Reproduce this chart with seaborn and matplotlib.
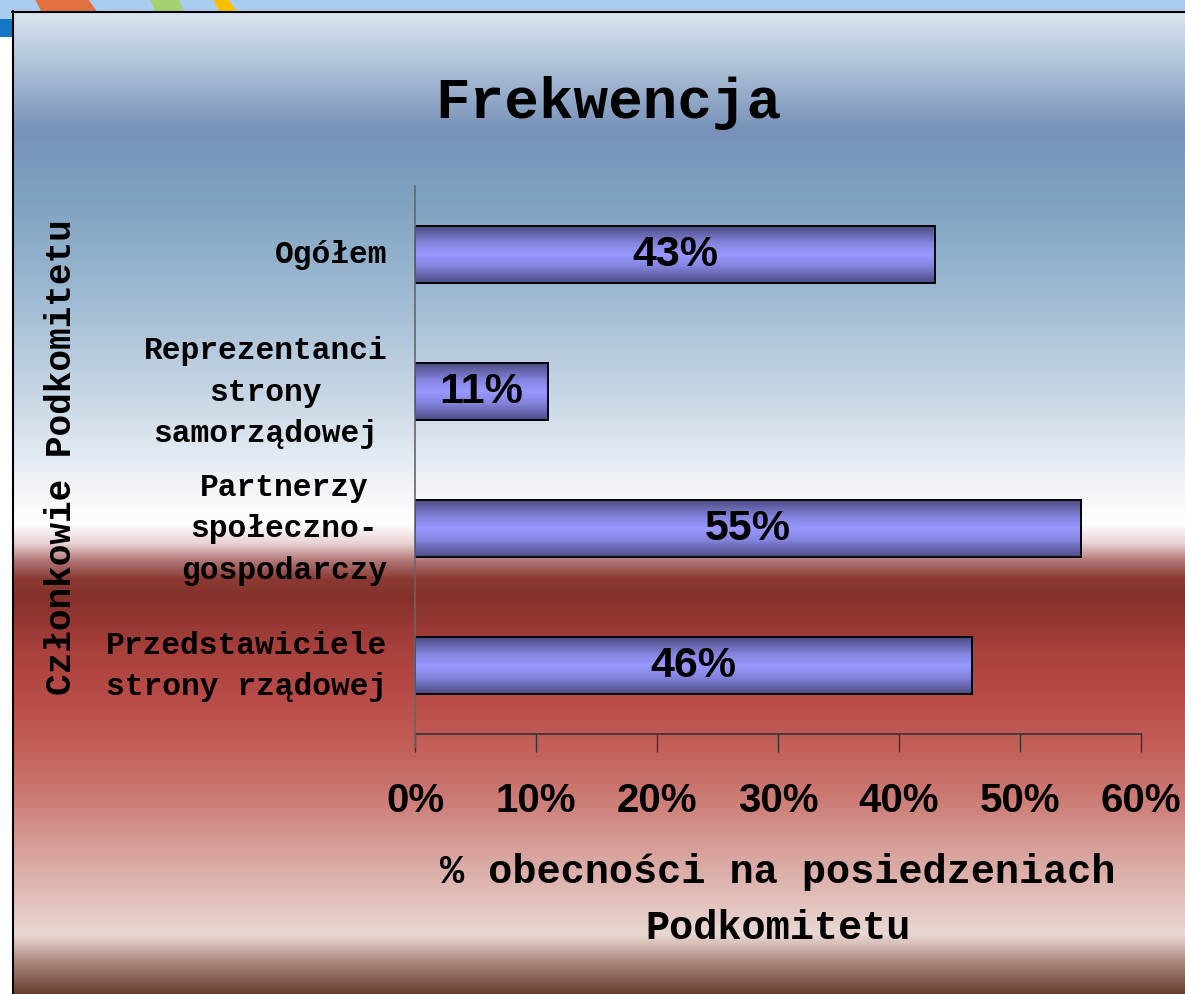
import numpy as np
import pandas as pd
import matplotlib
matplotlib.use("Agg")
import matplotlib.pyplot as plt
from matplotlib import font_manager
from matplotlib.colors import LinearSegmentedColormap, to_rgb
import seaborn as sns

# ---------------- data ----------------
categories = ["Ogółem",
              "Reprezentanci\nstrony\nsamorządowej",
              "Partnerzy\nspołeczno-\ngospodarczy",
              "Przedstawiciele\nstrony rządowej"]
values = [43, 11, 55, 46]
xticks = [0, 10, 20, 30, 40, 50, 60]
xticklabels = ["0%", "10%", "20%", "30%", "40%", "50%", "60%"]
title = "Frekwencja"
ylabel = "Członkowie Podkomitetu"
xlabel = "% obecności na posiedzeniach\nPodkomitetu"

df = pd.DataFrame({"cat": categories, "val": values})

sns.set_theme(style="white")
mono = ["Liberation Mono", "DejaVu Sans Mono"]
names = {f.name for f in font_manager.fontManager.ttflist}
narrow = "Liberation Sans Narrow" if "Liberation Sans Narrow" in names else "Liberation Sans"
plt.rcParams["font.family"] = mono
plt.rcParams["text.color"] = "black"
plt.rcParams["xtick.color"] = "black"
plt.rcParams["ytick.color"] = "black"

W, H = 1185, 995
fig = plt.figure(figsize=(W / 100, H / 100), dpi=100)

# ---------------- background ----------------
bg = fig.add_axes([0, 0, 1, 1], zorder=-10)
bg.set_xlim(0, W)
bg.set_ylim(H, 0)
bg.axis("off")
bg.add_patch(plt.Rectangle((0, 0), W, H, color="#ffffff", lw=0))
bg.add_patch(plt.Rectangle((0, 0), W, 14, color="#a9cdee", lw=0))
bg.add_patch(plt.Rectangle((0, 0), 14, 22, color="#a9cdee", lw=0))
bg.add_patch(plt.Rectangle((0, 20), 14, 18, color="#1577c4", lw=0))
bg.add_patch(plt.Polygon([(35, 0), (88, 0), (98, 14), (42, 14)], color="#e0703e", lw=0))
bg.add_patch(plt.Polygon([(150, 0), (178, 0), (185, 14), (156, 14)], color="#a4d070", lw=0))
bg.add_patch(plt.Polygon([(213, 0), (228, 0), (238, 14), (220, 14)], color="#f6c000", lw=0))

stops = [(12, "#dbe6f0"), (60, "#b3c6da"), (130, "#7892ba"), (200, "#7fa2c0"),
         (300, "#a0bbd3"), (400, "#c9d8e6"), (480, "#eef2f7"), (525, "#ffffff"),
         (545, "#e8d0d0"), (562, "#b07575"), (580, "#8a3a32"), (600, "#86302c"),
         (650, "#a8403c"), (700, "#b94c48"), (750, "#c4605a"), (800, "#cd7b75"),
         (850, "#d7a09a"), (900, "#e2bfba"), (935, "#ead8d2"), (945, "#d8c0b8"),
         (965, "#a58378"), (995, "#6a3e30")]
ys = np.arange(12, 996)
sy = np.array([s[0] for s in stops], float)
sc = np.array([to_rgb(s[1]) for s in stops])
grad = np.stack([np.interp(ys, sy, sc[:, k]) for k in range(3)], axis=1)
img = np.repeat(grad[:, None, :], 2, axis=1)
bg.imshow(img, extent=(12, W, 995, 12), aspect="auto", interpolation="bilinear", zorder=1)
bg.plot([12.5, 12.5], [12, 995], color="black", lw=1.5, zorder=2)
bg.plot([12, W], [12.5, 12.5], color="black", lw=1.5, zorder=2)

# ---------------- chart ----------------
ax = fig.add_axes([415 / W, 1 - 735 / H, (1141 - 415) / W, (735 - 187) / H])
ax.patch.set_alpha(0)
sns.barplot(data=df, x="val", y="cat", orient="h", width=0.41,
            color="#9999ff", edgecolor="black", linewidth=1.3, ax=ax, zorder=3)
ax.set_xlim(0, 60)
ax.set_ylim(3.5, -0.5)

bar_cmap = LinearSegmentedColormap.from_list(
    "barg", [(0, "#4d4d85"), (0.3, "#8585e0"), (0.5, "#9999ff"),
             (0.7, "#8585e0"), (1, "#4d4d85")])
gvals = np.linspace(0, 1, 64)[:, None]
for p in ax.patches:
    x0, y0 = p.get_x(), p.get_y()
    w, h = p.get_width(), p.get_height()
    im = ax.imshow(gvals, cmap=bar_cmap, extent=(x0, x0 + w, y0 + h, y0),
                   aspect="auto", zorder=3.5, interpolation="bilinear")
    im.set_clip_path(p)
    ax.add_patch(plt.Rectangle((x0, y0), w, h, fill=False, edgecolor="black",
                               lw=1.3, zorder=4))
ax.set_xlim(0, 60)
ax.set_ylim(3.5, -0.5)

for cont in ax.containers:
    ax.bar_label(cont, labels=[f"{v}%" for v in values], label_type="center",
                 fontsize=31, fontweight="bold", family=narrow, color="black", zorder=5)

ax.set_xticks(xticks)
ax.set_xticklabels(xticklabels, family=narrow, fontweight="bold", fontsize=29)
ax.set_yticks(range(len(categories)))
ax.set_yticklabels(categories, family=mono, fontweight="bold", fontsize=22.5,
                   multialignment="center", linespacing=1.52)
for t in ax.get_yticklabels():
    t.set_va("center")
ax.tick_params(axis="x", direction="out", length=13, width=1, color="#333333",
               pad=21, bottom=True)
ax.tick_params(axis="y", length=0, pad=20)
ax.set_xlabel("")
ax.set_ylabel("")
for s in ["top", "right"]:
    ax.spines[s].set_visible(False)
ax.spines["bottom"].set_color("#333333")
ax.spines["bottom"].set_linewidth(1.2)
ax.spines["left"].set_color("#666666")
ax.spines["left"].set_linewidth(1.2)
ax.spines["left"].set_bounds(3.5 + 13 / 137, -0.5)
ax.spines["left"].set_zorder(6)

fig.text(608 / W, 1 - 103 / H, title, ha="center", va="center",
         fontsize=41.5, fontweight="bold", family=mono)
fig.text(62 / W, 1 - 457 / H, ylabel, ha="center", va="center", rotation=90,
         fontsize=26, fontweight="bold", family=mono)
fig.text(778 / W, 1 - 900 / H, xlabel, ha="center", va="center",
         fontsize=29, fontweight="bold", family=mono, linespacing=1.58)

fig.savefig("out.png", dpi=100)
